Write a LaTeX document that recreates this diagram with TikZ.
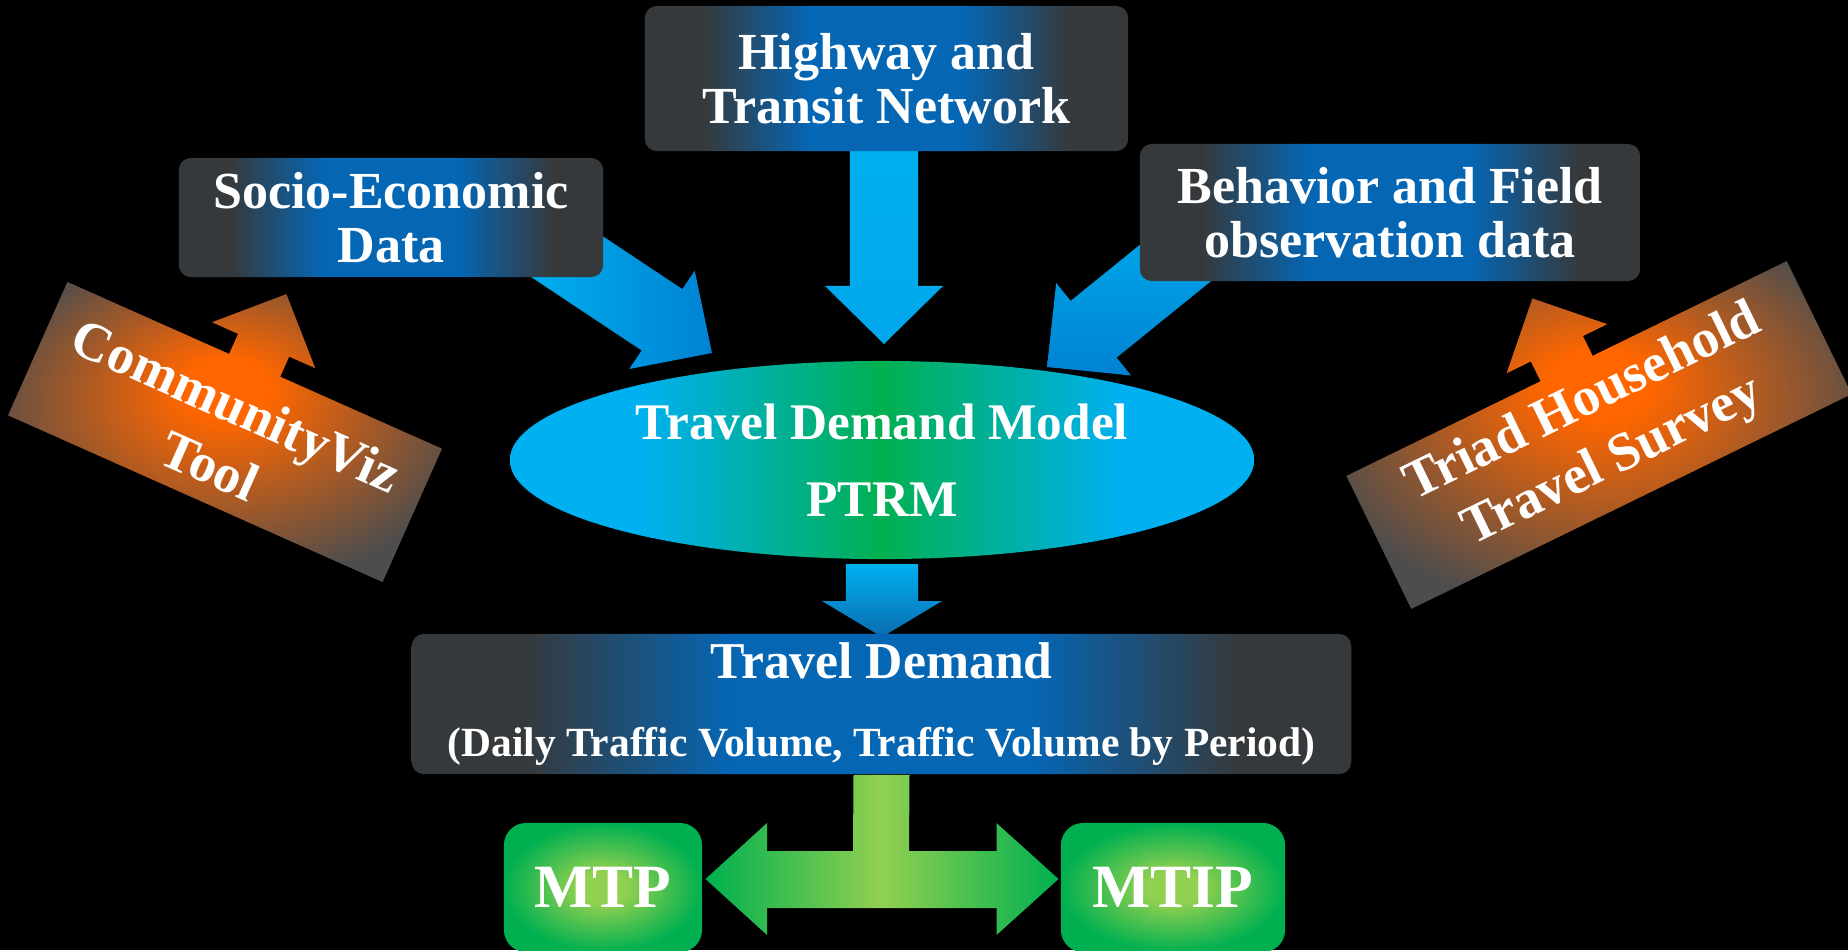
\documentclass[tikz,border=0pt]{standalone}
\usepackage{fontspec}
\setmainfont{Liberation Serif}
\usetikzlibrary{calc,shapes.geometric}
\definecolor{boxblue}{HTML}{0566B4}
\definecolor{boxgray}{HTML}{36393B}
\definecolor{arcyan}{HTML}{00B0F0}
\definecolor{ardark}{HTML}{0082D2}
\definecolor{ardeep}{HTML}{0A6CB0}
\definecolor{ellgreen}{HTML}{00B050}
\definecolor{ellcyan}{HTML}{00B0F0}
\definecolor{orng}{HTML}{FF6600}
\definecolor{ogray}{HTML}{4D4D4D}
\definecolor{glight}{HTML}{92D050}
\definecolor{gdark}{HTML}{00B050}
\pgfdeclarehorizontalshading{boxshade}{100bp}{color(0bp)=(boxgray); color(31bp)=(boxgray); color(42bp)=(boxblue); color(58bp)=(boxblue); color(69bp)=(boxgray); color(100bp)=(boxgray)}
\pgfdeclarehorizontalshading{ellshade}{100bp}{color(0bp)=(ellcyan); color(34bp)=(ellcyan); color(50bp)=(ellgreen); color(66bp)=(ellcyan); color(100bp)=(ellcyan)}
\pgfdeclareradialshading{orshade}{\pgfpoint{0bp}{8bp}}{color(0bp)=(orng); color(5bp)=(orng); color(29bp)=(ogray); color(50bp)=(ogray)}
\pgfdeclareradialshading{grshade}{\pgfpoint{0bp}{0bp}}{color(0bp)=(glight); color(6bp)=(glight); color(25bp)=(gdark); color(50bp)=(gdark)}
% block arrow: #1 tail, #2 tip, #3 shaft half width, #4 head half width, #5 head length, #6 style
\newcommand\blockarrow[6]{%
  \coordinate (babase) at ($(#2)!#5!(#1)$);
  \path[#6] ($(#1)!#3!90:(#2)$) -- ($(babase)!#3!90:(#2)$) -- ($(babase)!#4!90:(#2)$) -- (#2)
    -- ($(babase)!#4!-90:(#2)$) -- ($(babase)!#3!-90:(#2)$) -- ($(#1)!#3!-90:(#2)$) -- cycle;
}
\begin{document}
\begin{tikzpicture}[x=0.01cm,y=-0.01cm,
  txt/.style={text=white, align=center, font=\fontsize{14.8}{15.4}\selectfont\bfseries},
  databox/.style={txt, shade, shading=boxshade, rounded corners=0.12cm, inner sep=0pt},
  orangetxt/.style={text=white, align=center, font=\fontsize{15.4}{18.7}\selectfont\bfseries},
  orangeshape/.style={shade, shading=orshade},
  greenbox/.style={shade, shading=grshade, rounded corners=0.22cm, inner sep=0pt, text=white,
    font=\fontsize{17.5}{20}\selectfont\bfseries},
]
\useasboundingbox[fill=black] (0,0) rectangle (1848,950);

% ---- blue block arrows (drawn first, tails hidden under boxes)
\coordinate (tailSe) at (545,242);  \coordinate (tipSe) at (712,353);
\coordinate (tailHw) at (884,140);  \coordinate (tipHw) at (884,344);
\coordinate (tailBf) at (1226,222); \coordinate (tipBf) at (1047,367);
\coordinate (tailEl) at (882,564);  \coordinate (tipEl) at (882,637);
\blockarrow{tailSe}{tipSe}{0.368cm}{0.59cm}{0.60cm}{left color=arcyan, right color=ardark}
\blockarrow{tailHw}{tipHw}{0.34cm}{0.59cm}{0.58cm}{top color=arcyan, bottom color=arcyan!80!ardark}
\blockarrow{tailBf}{tipBf}{0.365cm}{0.595cm}{0.60cm}{top color=arcyan, bottom color=ardark}
\blockarrow{tailEl}{tipEl}{0.36cm}{0.60cm}{0.36cm}{top color=arcyan, bottom color=ardeep}

% ---- data boxes
\node[databox, minimum width=4.83cm, minimum height=1.45cm] (hw) at (886.5,78.5) {Highway and\\Transit Network};
\node[databox, minimum width=4.24cm, minimum height=1.19cm] (se) at (391,217.5) {Socio-Economic\\Data};
\node[databox, minimum width=5.00cm, minimum height=1.37cm] (bf) at (1390,212.5) {Behavior and Field\\observation data};

% ---- model ellipse
\node[ellipse, shade, shading=ellshade, minimum width=7.44cm, minimum height=1.98cm, inner sep=0pt,
  text=white, align=center, font=\fontsize{14.6}{21.8}\selectfont\bfseries] (tdm) at (882,460)
  {Travel Demand Model\\PTRM};

% ---- travel demand box
\node[databox, minimum width=9.39cm, minimum height=1.40cm, font=\fontsize{14.7}{17}\selectfont\bfseries] (td) at (881.5,704)
  {Travel Demand\\[5pt]{\fontsize{11.8}{14}\selectfont (Daily Traffic Volume, Traffic Volume by Period)}};

% ---- green outputs
\node[greenbox, minimum width=1.98cm, minimum height=1.29cm] (mtp) at (603,887.5) {MTP};
\node[greenbox, minimum width=2.24cm, minimum height=1.29cm] (mtip) at (1173,887.5) {MTIP};
\path[left color=gdark, right color=gdark, middle color=glight]
  ($(td.south)+(-28,0)$) -- ($(td.south)+(28,0)$) -- (909,851) -- (996.5,851) -- (996.5,823)
  -- (1058.5,879) -- (996.5,935) -- (996.5,908) -- (767,908) -- (767,935) -- (705.5,879)
  -- (767,823) -- (767,851) -- (853,851) -- cycle;

% ---- CommunityViz tool (rotated, with arrow towards socio-economic data)
\begin{scope}[shift={(225,432)}, rotate=-24]
  \path[orangeshape] (-205,-73) -- (-28,-73) -- (-28,-95) -- (-56.5,-95) -- (0,-151) -- (56.5,-95)
    -- (28,-95) -- (28,-73) -- (205,-73) -- (205,73) -- (-205,73) -- cycle;
  \node[orangetxt, transform shape] (cviz) at (0,4) {CommunityViz\\Tool};
\end{scope}

% ---- Triad household travel survey (rotated, with arrow towards behavior data)
\begin{scope}[shift={(1599,435)}, rotate=26]
  \path[orangeshape] (-245,-74) -- (-29,-74) -- (-29,-96) -- (-56,-96) -- (0,-152) -- (56,-96)
    -- (29,-96) -- (29,-74) -- (245,-74) -- (245,74) -- (-245,74) -- cycle;
  \node[orangetxt, transform shape] (triad) at (0,-2) {Triad Household\\Travel Survey};
\end{scope}
\end{tikzpicture}
\end{document}
